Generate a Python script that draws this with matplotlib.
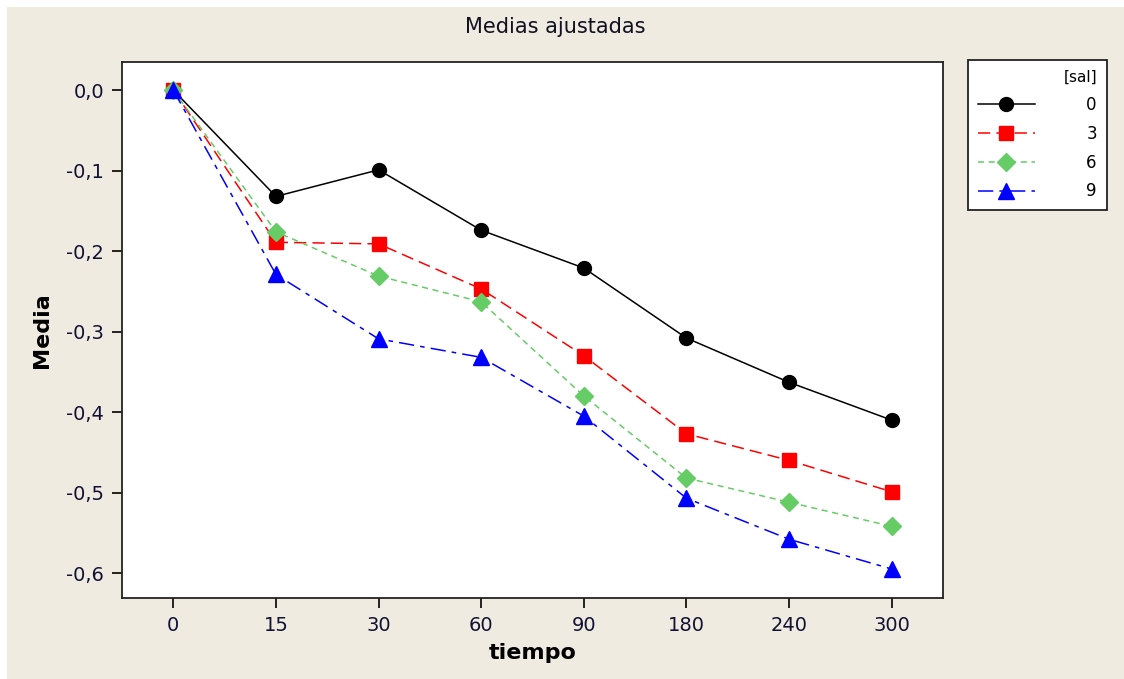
import matplotlib.pyplot as plt
from matplotlib.patches import Rectangle

tiempo = ['0', '15', '30', '60', '90', '180', '240', '300']
sal = ['0', '3', '6', '9']
media_0 = [0.0, -0.132, -0.099, -0.174, -0.221, -0.308, -0.363, -0.410]
media_3 = [0.0, -0.189, -0.191, -0.247, -0.330, -0.427, -0.460, -0.499]
media_6 = [0.0, -0.176, -0.231, -0.263, -0.380, -0.482, -0.512, -0.542]
media_9 = [0.0, -0.229, -0.309, -0.332, -0.405, -0.507, -0.558, -0.595]
yticks = [0.0, -0.1, -0.2, -0.3, -0.4, -0.5, -0.6]

plt.rcParams['font.family'] = ['DejaVu Sans']

W, H = 1124, 679
fig = plt.figure(figsize=(W / 100, H / 100), dpi=100, facecolor='white')
# beige panel with thin white strips at top and left
fig.patches.append(Rectangle((7 / W, 0), 1, 1 - 7 / H, transform=fig.transFigure,
                             facecolor='#efebe1', edgecolor='none', zorder=-10))

ax = fig.add_axes([122 / W, 1 - 598 / H, (943 - 122) / W, (598 - 62) / H])
ax.set_facecolor('white')

x = range(len(tiempo))
series = [
    (media_0, 'black', 'o', '-', 10),
    (media_3, '#ff0000', 's', (0, (8, 4)), 10),
    (media_6, '#66cc66', 'D', (0, (4, 3)), 9),
    (media_9, '#0000ff', '^', (0, (10, 4, 3, 4)), 11),
]
for (vals, col, mk, ls, ms), lab in zip(series, sal):
    ax.plot(x, vals, color=col, marker=mk, linestyle=ls, linewidth=1.1,
            markersize=ms, label=lab)

ax.set_xlim(-0.5, 7.5)
ax.set_ylim(-0.631, 0.035)
ax.set_xticks(list(x))
ax.set_xticklabels(tiempo)
ax.set_yticks(yticks)
ax.set_yticklabels([('%.1f' % v).replace('.', ',') for v in yticks])
ax.tick_params(labelsize=14, length=7, width=1.2, direction='out', pad=6,
               labelcolor='#111133')
for sp in ax.spines.values():
    sp.set_linewidth(1.3)
    sp.set_color('#222222')

ax.set_xlabel('tiempo', fontsize=16, fontweight='bold', labelpad=6)
ax.set_ylabel('Media', fontsize=16, fontweight='bold', labelpad=10)
fig.text(555 / W, 1 - 27 / H, 'Medias ajustadas', ha='center', va='center',
         fontsize=15, color='#111122')

leg = fig.legend(loc='upper left', bbox_to_anchor=(968 / W, 1 - 60 / H),
                 title='[sal]', alignment='right', fontsize=12,
                 title_fontsize=11, handlelength=3.4, handletextpad=3.1,
                 frameon=True, fancybox=False, edgecolor='#222222',
                 borderpad=0.6, labelspacing=0.65, borderaxespad=0)
leg.get_frame().set_linewidth(1.3)
leg.get_frame().set_facecolor('white')
leg.get_frame().set_alpha(1)

fig.savefig('out.png', dpi=100, facecolor=fig.get_facecolor())
